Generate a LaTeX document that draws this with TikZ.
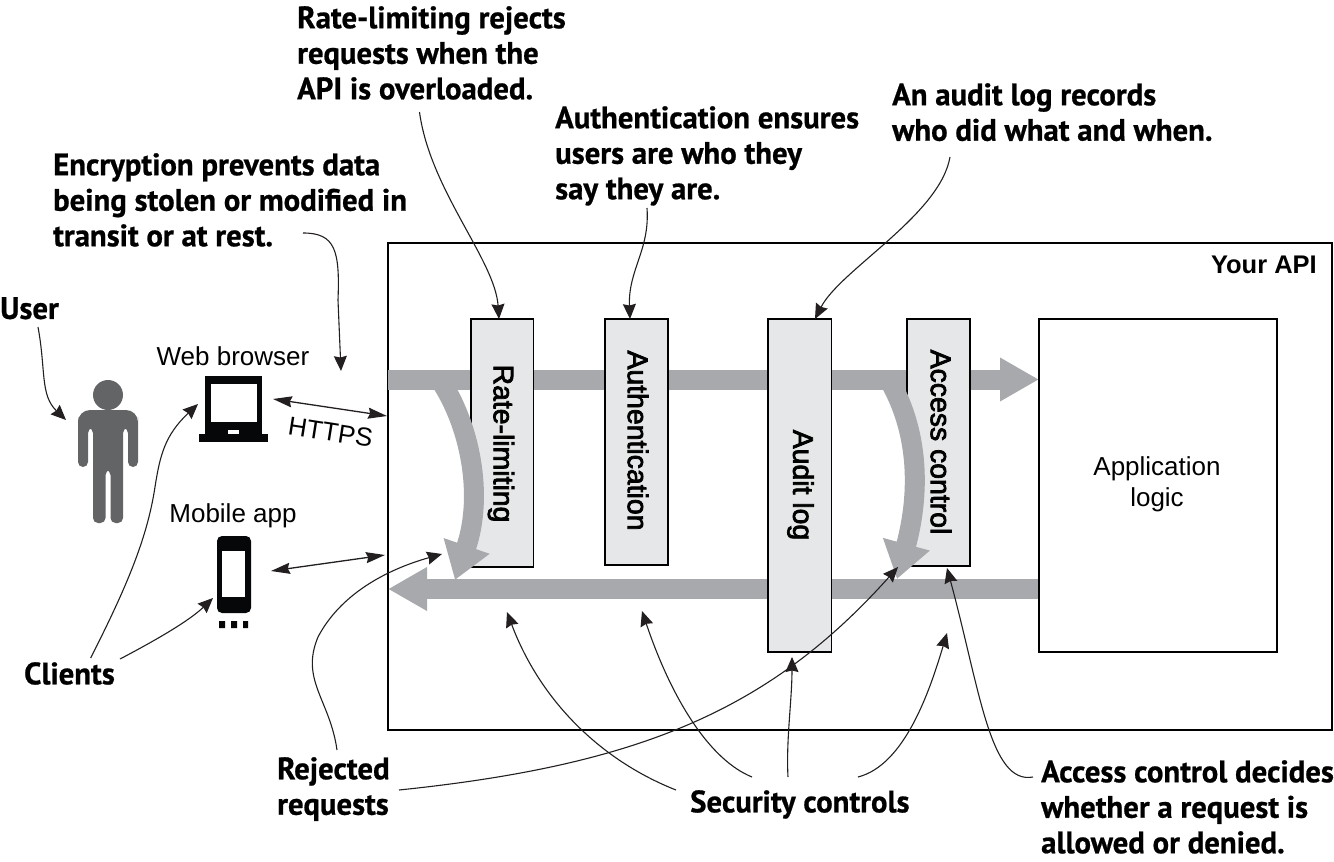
\documentclass[tikz,border=0pt]{standalone}
\usepackage{fontspec}
\usetikzlibrary{arrows.meta}
\setmainfont{Liberation Sans}
\newfontfamily\handf[FakeStretch=0.992,BoldFeatures={FakeBold=0.7}]{PT Sans}
\newfontfamily\ctrlf[FakeBold=2.6]{Liberation Sans}
\definecolor{bandgray}{HTML}{A7A9AC}
\definecolor{boxgray}{HTML}{E6E7E8}
\definecolor{persongray}{HTML}{636466}
\definecolor{inkk}{HTML}{231F20}
\definecolor{devblack}{HTML}{050708}
\tikzset{
  x=1pt,y=-1pt,
  hand/.style={font=\handf\bfseries\fontsize{31}{35.5}\selectfont,align=left,anchor=north west,inner sep=0pt,text=black},
  plain/.style={font=\fontsize{26}{31}\selectfont,inner sep=0pt,align=center,text=black},
  ctrl/.style={draw=black,fill=boxgray,line width=1.6pt,inner sep=0pt,outer sep=0pt,anchor=north west},
  ctrltext/.style={font=\ctrlf\fontsize{28.4}{30}\selectfont,inner sep=0pt,rotate=-90,text=black},
  band/.style={draw=bandgray,line width=20pt},
  bandhead/.style={-{Triangle[length=39pt,width=41pt,fill=bandgray]}},
  curvehead/.style={-{Triangle[length=36pt,width=46pt,fill=bandgray]}},
  callout/.style={draw=inkk,line width=1.1pt,-{Stealth[length=15pt,width=13pt,inset=1.5pt,fill=inkk]}},
  callouttwo/.style={draw=inkk,line width=1.3pt,{Stealth[length=19pt,width=11pt,inset=2pt,fill=inkk]}-{Stealth[length=19pt,width=11pt,inset=2pt,fill=inkk]}},
}
\begin{document}
\begin{tikzpicture}
\path[use as bounding box] (0,0) rectangle (1334,862);
% outer API box
\node[draw=black,line width=1.6pt,fill=white,minimum width=944pt,minimum height=487pt,inner sep=0pt,outer sep=0pt,anchor=north west] (api) at (388,243) {};
\node[font=\bfseries\fontsize{25.5}{30}\selectfont,anchor=east,inner sep=0pt] (yourapi) at (1317,265) {Your API};
% bands
\coordinate (topin) at (388,379.5);
\coordinate (topout) at (1039,379.5);
\coordinate (botin) at (1039,589);
\coordinate (botout) at (388,589);
\draw[band,bandhead] (topin) -- (topout);
\draw[band,bandhead] (botin) -- (botout);
% control boxes
\node[ctrl,minimum width=62.5pt,minimum height=248pt] (ratebox) at (471,319) {};
\node[ctrl,minimum width=63pt,minimum height=246pt] (authbox) at (605,319) {};
\node[ctrl,minimum width=63.5pt,minimum height=333pt] (auditbox) at (768,319) {};
\node[ctrl,minimum width=63pt,minimum height=247pt] (accessbox) at (907,319) {};
\node[draw=black,fill=white,line width=1.6pt,minimum width=238pt,minimum height=333pt,inner sep=0pt,outer sep=0pt,anchor=north west] (applogic) at (1039,319) {};
% curved rejection arrows
\coordinate (rejA) at (440,380);
\coordinate (rejAtip) at (455,580);
\coordinate (rejB) at (889,380);
\coordinate (rejBtip) at (897,579);
\draw[band,curvehead] (rejA) .. controls (470,425) and (484,495) .. (rejAtip);
\draw[band,curvehead] (rejB) .. controls (918,430) and (921,490) .. (rejBtip);
% labels in boxes
\node[ctrltext] (ratetext) at (501,443.5) {Rate-limiting};
\node[ctrltext] (authtext) at (638,440.5) {Authentication};
\node[ctrltext] (audittext) at (800.5,485) {Audit log};
\node[ctrltext] (accesstext) at (941,442) {Access control};
\node[plain] (applabel) at (1157,484) {Application\\logic};
% person
\fill[persongray] (108,395) circle (15);
\fill[persongray,rounded corners=5pt] (78,467) -- (78,422) [rounded corners=12pt] -- (78,410) -- (138,410) [rounded corners=5pt] -- (138,422) -- (138,467) -- (128,467) -- (128,428) -- (123,428) -- (123,523) -- (110.5,523) -- (110.5,470) -- (105.5,470) -- (105.5,523) -- (93,523) -- (93,428) -- (88,428) -- (88,467) -- cycle;
% laptop
\node[inner sep=0pt,minimum width=57pt,minimum height=58pt,anchor=north west,outer sep=0pt,fill=devblack] (laptop) at (205,376) {};
\fill[white] (211,384) rectangle (257,422);
\fill[devblack] (199,434) rectangle (268,442);
\fill[white] (228,430) rectangle (239,434);
\node[plain,anchor=center] (weblabel) at (233,356) {Web browser};
% phone
\node[inner sep=0pt,minimum width=34pt,minimum height=77pt,anchor=north west,outer sep=0pt,fill=devblack,rounded corners=5pt] (phone) at (217,536) {};
\fill[white] (222,551) rectangle (245,597);
\fill[devblack] (219,621) rectangle (225,628) (231,621) rectangle (237,628) (243,621) rectangle (248,628);
\node[plain] (moblabel) at (233,516) {Mobile app};
% double arrows
\coordinate (httpsA) at (273,399);
\coordinate (httpsB) at (387,416);
\coordinate (mobA) at (271,571);
\coordinate (mobB) at (385,555);
\draw[callouttwo] (httpsA) -- (httpsB);
\draw[callouttwo] (mobA) -- (mobB);
\node[plain,rotate=-9] (httpslabel) at (330.5,432) {HTTPS};
% hand labels
\node[hand] (rltext) at (297,6) {Rate-limiting rejects\\requests when the\\API is overloaded.};
\node[hand] (authnote) at (555,106) {Authentication ensures\\users are who they\\say they are.};
\node[hand] (auditnote) at (892,83) {An audit log records\\who did what and when.};
\node[hand] (encnote) at (53,153) {Encryption prevents data\\being stolen or modified in\\transit or at rest.};
\node[hand] (usernote) at (0,297) {User};
\node[hand] (clients) at (24,662) {Clients};
\node[hand] (rejected) at (277,757) {Rejected\\requests};
\node[hand] (security) at (690,790) {Security controls};
\node[hand] (accessnote) at (1041,760) {Access control decides\\whether a request is\\allowed or denied.};
% callout arrows
\coordinate (userS) at (38,327); \coordinate (userT) at (66,420);
\draw[callout] (userS) .. controls (46,370) and (40,395) .. (userT);
\coordinate (encS) at (303,233); \coordinate (encT) at (341,371);
\draw[callout] (encS) .. controls (335,233) and (340,250) .. (338,300) -- (encT);
\coordinate (rlS) at (419.5,112); \coordinate (rlT) at (499,319);
\draw[callout] (rlS) .. controls (430,190) and (495,260) .. (rlT);
\coordinate (anS) at (647,208); \coordinate (anT) at (630,319);
\draw[callout] (anS) .. controls (650,250) and (628,270) .. (anT);
\coordinate (adS) at (950,157); \coordinate (adT) at (815,319);
\draw[callout] (adS) .. controls (940,215) and (840,270) .. (adT);
\coordinate (clS) at (90.7,658); \coordinate (clM) at (155,487); \coordinate (clT) at (198,404);
\draw[callout] (clS) .. controls (125,590) and (147,540) .. (clM) .. controls (160,455) and (165,435) .. (clT);
\coordinate (cl2S) at (120,659); \coordinate (cl2T) at (213,598);
\draw[callout] (cl2S) .. controls (160,638) and (190,620) .. (cl2T);
\coordinate (rjS) at (337,750); \coordinate (rjM) at (318,637); \coordinate (rjT) at (442,554);
\draw[callout] (rjS) .. controls (330,700) and (300,680) .. (rjM) .. controls (340,595) and (385,570) .. (rjT);
\coordinate (rj2S) at (399,790); \coordinate (rj2T) at (898,567);
\draw[callout] (rj2S) .. controls (640,765) and (770,710) .. (rj2T);
\coordinate (scS) at (676,790); \coordinate (scT) at (507,612);
\draw[callout] (scS) .. controls (600,760) and (540,700) .. (scT);
\coordinate (sc2S) at (752,777); \coordinate (sc2T) at (642,611);
\draw[callout] (sc2S) .. controls (710,760) and (672,700) .. (sc2T);
\coordinate (sc3S) at (788,777); \coordinate (sc3T) at (792,657);
\draw[callout] (sc3S) .. controls (786,740) and (792,700) .. (sc3T);
\coordinate (sc4S) at (858,777); \coordinate (sc4T) at (947,633);
\draw[callout] (sc4S) .. controls (905,765) and (930,690) .. (sc4T);
\coordinate (acS) at (1033,777); \coordinate (acT) at (947,568);
\draw[callout] (acS) .. controls (990,785) and (980,690) .. (acT);
\end{tikzpicture}
\end{document}
